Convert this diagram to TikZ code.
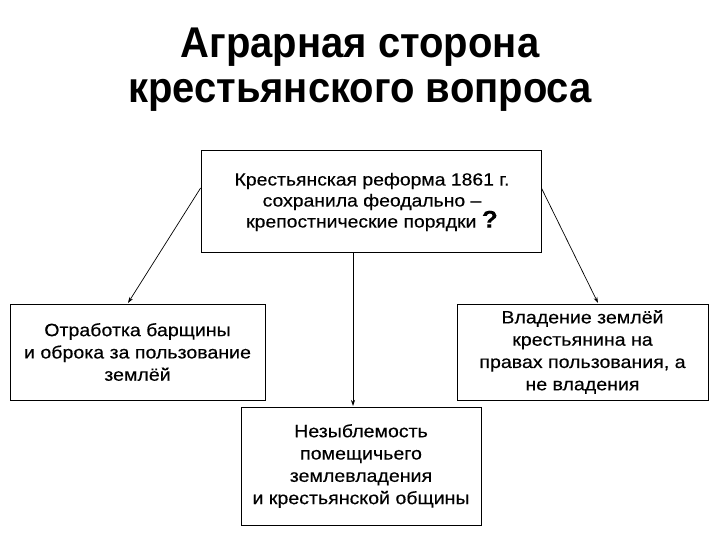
\documentclass[tikz,border=0pt]{standalone}
\usepackage{fontspec}
\setmainfont{Liberation Sans}
\newfontfamily\titlefont[FakeStretch=0.93]{Liberation Sans}
\newfontfamily\boxfont[FakeStretch=1.1,FakeBold=0.3]{Liberation Sans}
\usetikzlibrary{arrows.meta}
\begin{document}
\begin{tikzpicture}[x=1pt,y=-1pt,
  box/.style={draw,line width=0.8pt,align=center,inner sep=0pt,font=\boxfont\fontsize{17.8}{22.3}\selectfont},
  ttl/.style={anchor=base,font=\titlefont\bfseries\fontsize{43}{45}\selectfont},
  arr/.style={-{Stealth[length=6pt,width=4pt]},line width=0.7pt}]
\useasboundingbox[fill=white] (0,0) rectangle (720,540);
\node[ttl] (title1) at (360,58) {Аграрная сторона};
\node[ttl] (title2) at (360,103) {крестьянского вопроса};
\node[draw,line width=0.8pt,minimum width=340pt,minimum height=102pt,inner sep=0pt] (top) at (371,201) {};
\node[align=center,font=\boxfont\fontsize{17.6}{21}\selectfont] (toptext) at (372,202) {Крестьянская реформа 1861 г.\\сохранила феодально –\\крепостнические порядки {\bfseries\fontsize{24}{21}\selectfont ?}};
\node[box,minimum width=255pt,minimum height=96pt] (left) at (137.5,352) {Отработка барщины\\и оброка за пользование\\землёй};
\node[box,minimum width=251pt,minimum height=96pt] (right) at (582.5,352) {Владение землёй\\крестьянина на\\правах пользования, а\\не владения};
\node[box,minimum width=240pt,minimum height=118pt] (bottom) at (361,466) {Незыблемость\\помещичьего\\землевладения\\и крестьянской общины};
\draw[arr] (top.west |- 0,188) -- (128,303);
\draw[arr] (top.east |- 0,188) -- (598,303);
\draw[arr] (353,252) -- (353,406);
\end{tikzpicture}
\end{document}
